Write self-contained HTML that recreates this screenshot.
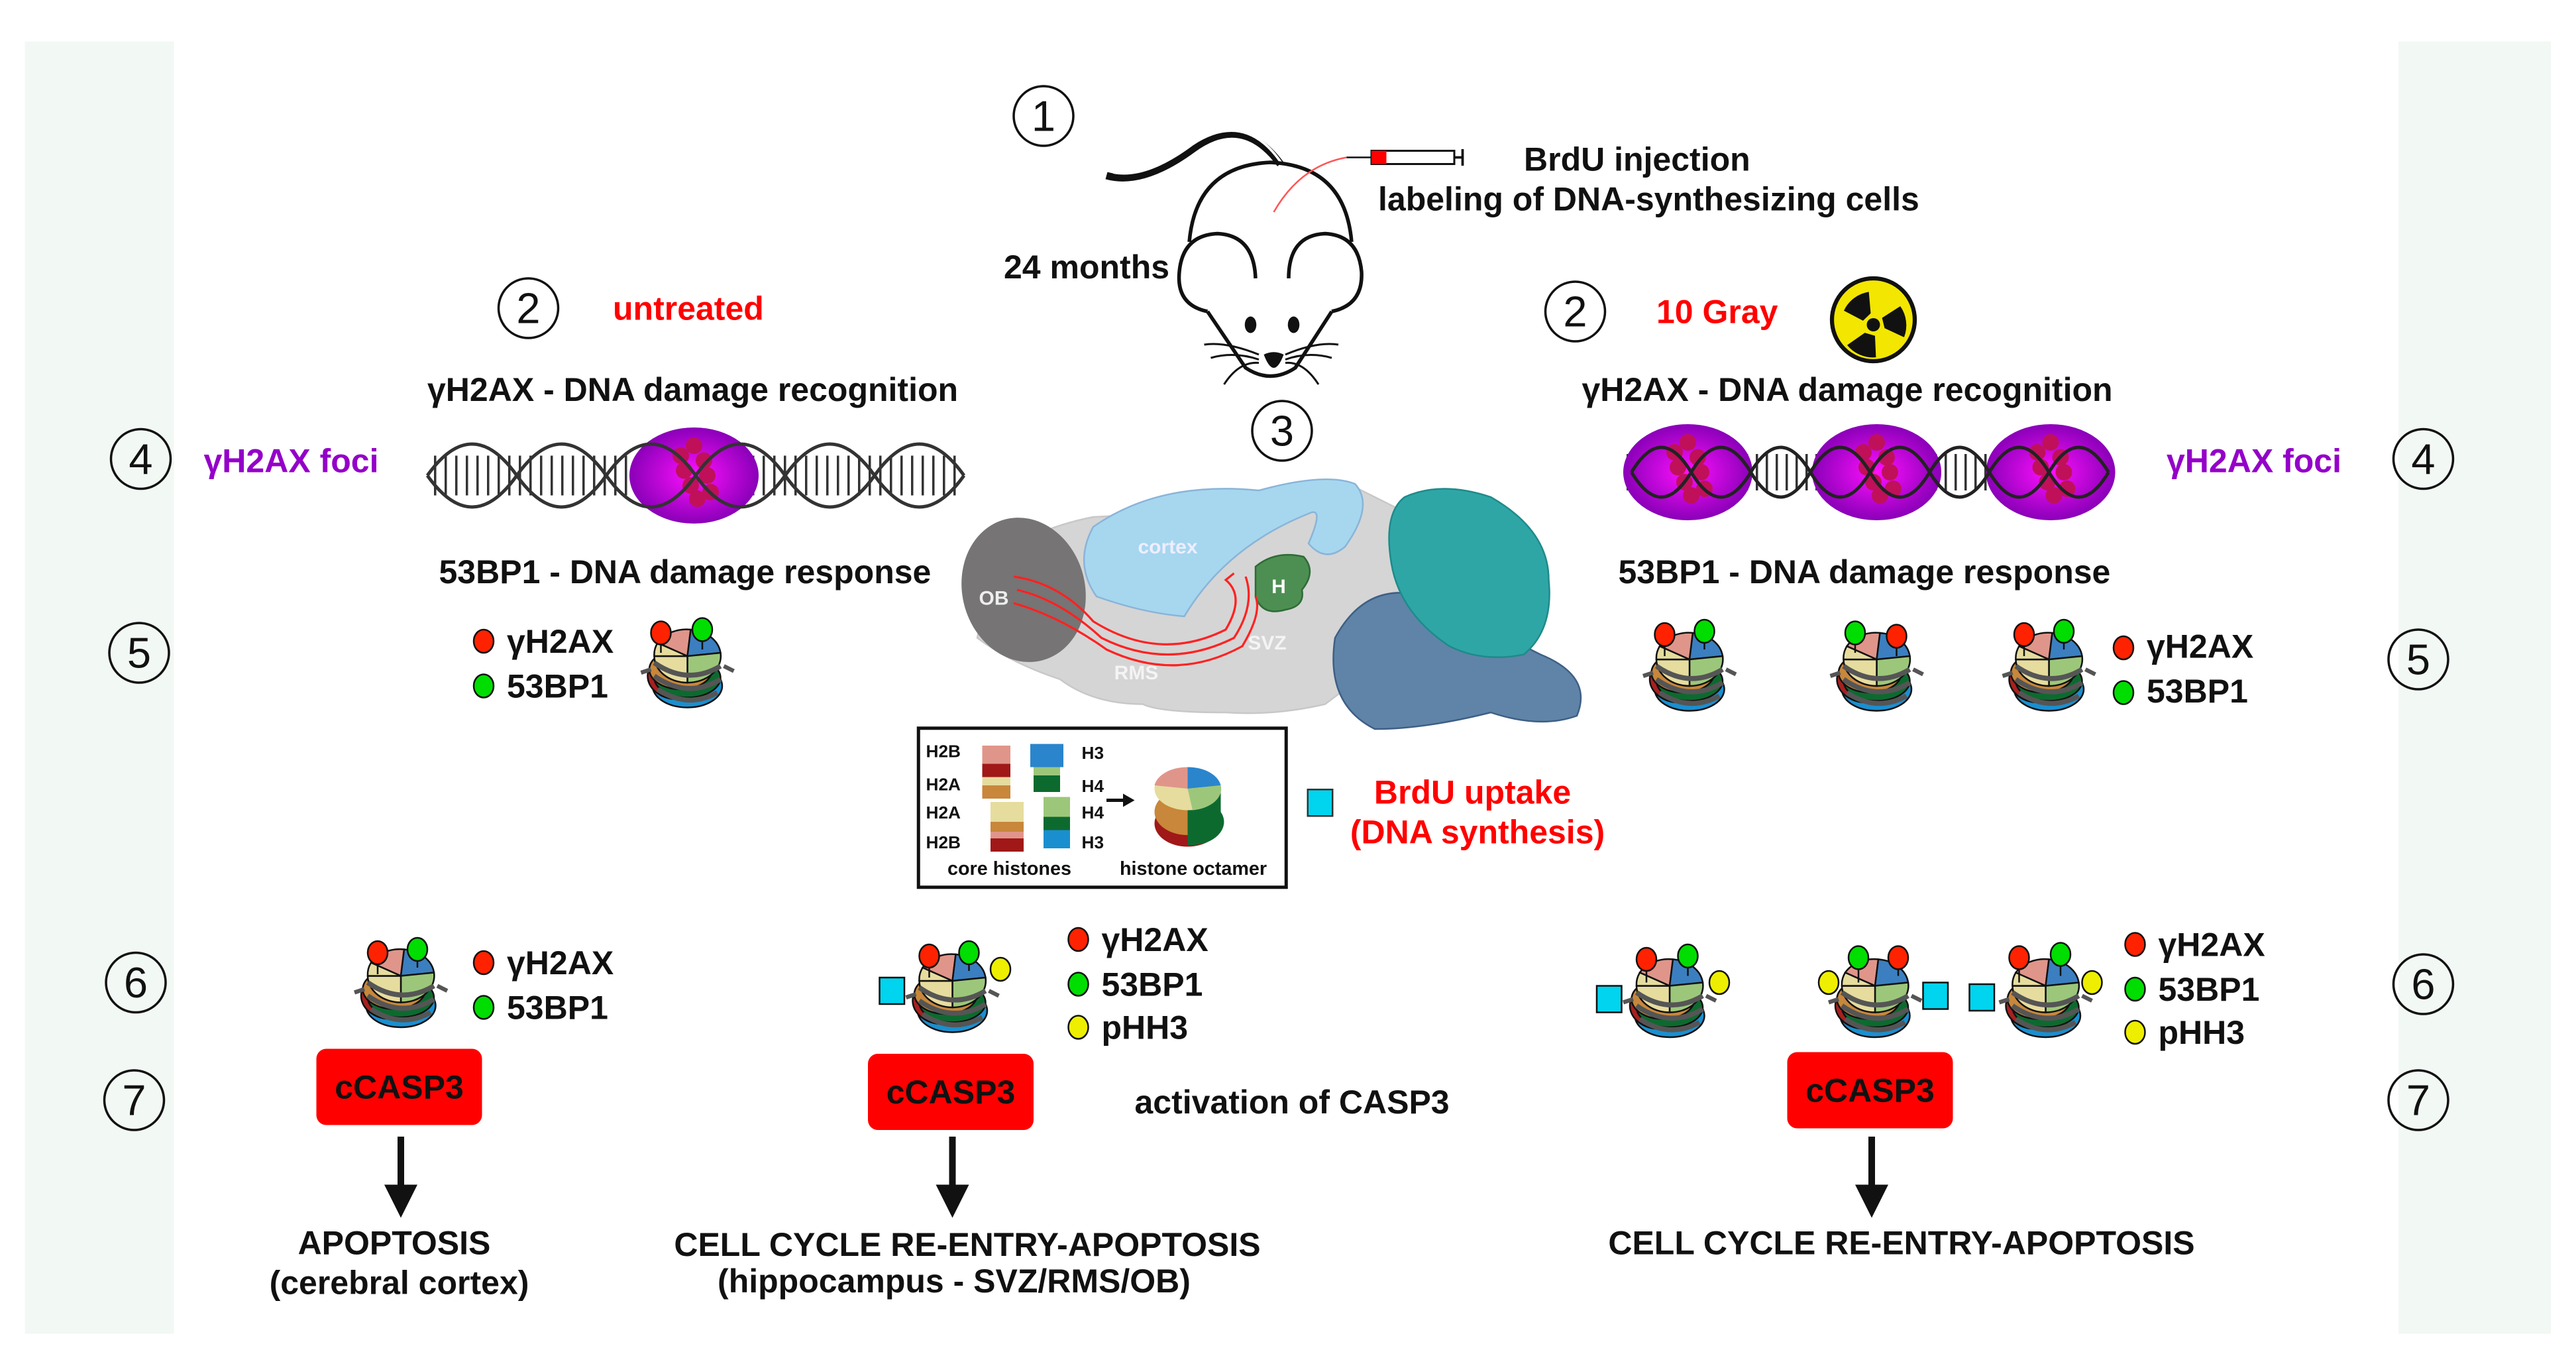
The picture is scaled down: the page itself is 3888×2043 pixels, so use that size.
<!DOCTYPE html>
<html><head><meta charset="utf-8"><style>
html,body{margin:0;padding:0;background:#fff}
svg{display:block}
text{font-family:"Liberation Sans",sans-serif}
.b{font-weight:bold;font-size:20px;fill:#111}
.n{font-size:26px;fill:#111}
</style></head><body>
<svg width="3888" height="2043" viewBox="0 0 1555.2 817.2" xmlns="http://www.w3.org/2000/svg">
<defs>
<g id="nuc">
 <ellipse cx="0" cy="14" rx="21" ry="13" fill="#1a8fd0"/>
 <ellipse cx="-6" cy="8" rx="18" ry="14" fill="#a82020"/>
 <ellipse cx="0" cy="9" rx="20" ry="12" fill="#0d6a2f"/>
 <ellipse cx="-4" cy="4" rx="19" ry="12" fill="#c8873a"/>
 <path d="M0,-4 L-18,-12 A20,16 0 0 1 2,-20 Z" fill="#e0958a"/>
 <path d="M0,-4 L2,-20 A20,16 0 0 1 20,-6 Z" fill="#3b7fc0"/>
 <path d="M0,-4 L20,-6 A20,16 0 0 1 0,12 Z" fill="#9cc77a"/>
 <path d="M0,-4 L0,12 A20,16 0 0 1 -20,-4 Z" fill="#e6dc9e"/>
 <path d="M0,-4 L-20,-4 A20,16 0 0 1 -18,-12 Z" fill="#e6dc9e"/>
 <path d="M-20,0 Q0,14 20,2 M-20,8 Q0,22 20,10 M-18,16 Q0,28 18,18" stroke="#555" stroke-width="3" fill="none"/>
 <path d="M-22,4 l-6,2 M22,2 l6,3" stroke="#555" stroke-width="2.5"/>
</g>
<radialGradient id="pg"><stop offset="0" stop-color="#ff10ff"/><stop offset="1" stop-color="#8a00b8"/></radialGradient>
<g id="foc">
 <ellipse cx="0" cy="0" rx="39" ry="29" fill="url(#pg)"/>
 <g fill="#c0105a"><circle cx="-8" cy="-12" r="5"/><circle cx="-6" cy="-3" r="5"/><circle cx="-2" cy="6" r="5"/><circle cx="2" cy="14" r="5"/><circle cx="0" cy="-18" r="5"/><circle cx="6" cy="-9" r="5"/><circle cx="8" cy="0" r="5"/><circle cx="10" cy="10" r="5"/></g>
</g>
</defs>
<rect x="0" y="0" width="1555.2" height="817.2" fill="#fff"/>
<rect x="15" y="25" width="1525" height="780" fill="#f2f8f4"/>
<rect x="105" y="25" width="1343" height="780" fill="#fff"/>

<g fill="none" stroke="#111" stroke-width="1.4">
<circle cx="630" cy="70" r="18"/><circle cx="319" cy="186" r="18"/><circle cx="951" cy="188" r="18"/><circle cx="774" cy="260" r="18"/>
<circle cx="85" cy="277" r="18"/><circle cx="1463" cy="277" r="18"/><circle cx="84" cy="394" r="18"/><circle cx="1460" cy="398" r="18"/>
<circle cx="82" cy="593" r="18"/><circle cx="1463" cy="594" r="18"/><circle cx="81" cy="664" r="18"/><circle cx="1460" cy="664" r="18"/>
</g>
<g class="n" text-anchor="middle">
<text x="630" y="79">1</text><text x="319" y="195">2</text><text x="951" y="197">2</text><text x="774" y="269">3</text>
<text x="85" y="286">4</text><text x="1463" y="286">4</text><text x="84" y="403">5</text><text x="1460" y="407">5</text>
<text x="82" y="602">6</text><text x="1463" y="603">6</text><text x="81" y="673">7</text><text x="1460" y="673">7</text>
</g>

<!-- mouse -->
<g fill="none" stroke="#111" stroke-width="2.2">
<path d="M668,106 Q690,112 720,90 Q750,68 773,99" stroke-width="4.5"/>
<path d="M672,104 Q692,108 720,87 Q752,66 774,99" stroke="#fff" stroke-width="1.5"/>
<path d="M718,146 Q722,100 767,98 Q812,100 816,146"/>
<path d="M729,188 Q710,184 712,164 Q714,142 735,141 Q757,142 758,168"/>
<path d="M804,188 Q823,184 822,164 Q820,142 800,141 Q778,142 778,168"/>
<path d="M729,188 L752,222 Q767,232 782,222 L804,188"/>
<path d="M727,208 Q740,206 760,214 M731,216 Q745,212 760,217 M739,232 Q748,218 760,219 M808,208 Q795,206 776,214 M804,216 Q790,212 776,217 M796,232 Q787,218 776,219" stroke-width="1.2"/>
</g>
<ellipse cx="755" cy="196" rx="3.5" ry="5" fill="#111"/><ellipse cx="781" cy="196" rx="3.5" ry="5" fill="#111"/>
<path d="M763,214 Q769,211 775,214 Q772,222 769,222 Q766,222 763,214Z" fill="#111"/>
<path d="M813,95 Q785,100 769,128" stroke="#f55" stroke-width="1" fill="none"/>
<line x1="813" y1="95" x2="828" y2="95" stroke="#111" stroke-width="1"/>
<rect x="828" y="91" width="50" height="8" fill="#fff" stroke="#111" stroke-width="1.2"/>
<rect x="828" y="91" width="9" height="8" fill="#f00"/>
<path d="M878,95 h5 M883,90 v10" stroke="#111" stroke-width="1.5"/>

<text class="b" x="920" y="103">BrdU injection</text>
<text class="b" x="832" y="127">labeling of DNA-synthesizing cells</text>
<text class="b" x="606" y="168">24 months</text>
<text class="b" x="370" y="193" style="fill:#f00">untreated</text>
<text class="b" x="1000" y="195" style="fill:#f00">10 Gray</text>
<circle cx="1131" cy="193" r="25" fill="#f3e600" stroke="#111" stroke-width="2.5"/>
<g fill="#111" transform="translate(1131,196)">
<circle r="4"/>
<path d="M-6,-3 L-17,-10 A20,20 0 0 1 -1,-20 L-1,-7Z" transform="rotate(-5)"/>
<path d="M-6,-3 L-17,-10 A20,20 0 0 1 -1,-20 L-1,-7Z" transform="rotate(115)"/>
<path d="M-6,-3 L-17,-10 A20,20 0 0 1 -1,-20 L-1,-7Z" transform="rotate(235)"/>
</g>

<text class="b" x="258" y="242">γH2AX - DNA damage recognition</text>
<text class="b" x="955" y="242">γH2AX - DNA damage recognition</text>
<text class="b" x="123" y="285" style="fill:#9400c8">γH2AX foci</text>
<text class="b" x="1308" y="285" style="fill:#9400c8">γH2AX foci</text>
<text class="b" x="265" y="352">53BP1 - DNA damage response</text>
<text class="b" x="977" y="352">53BP1 - DNA damage response</text>

<g>
<line x1="262" y1="287" x2="580" y2="287" stroke="#333" stroke-width="24" stroke-dasharray="1.4 5"/>
<use href="#foc" x="419" y="287"/>
<path d="M258,287 q27,-38 54,0 q27,38 54,0 q27,-38 54,0 q27,38 54,0 q27,-38 54,0 q27,38 54,0" fill="none" stroke="#333" stroke-width="2"/>
<path d="M258,287 q27,38 54,0 q27,-38 54,0 q27,38 54,0 q27,-38 54,0 q27,38 54,0 q27,-38 54,0" fill="none" stroke="#333" stroke-width="2"/>
</g>
<g>
<line x1="982" y1="285" x2="1276" y2="285" stroke="#333" stroke-width="22" stroke-dasharray="1.4 4.6"/>
<use href="#foc" x="1019" y="285"/><use href="#foc" x="1133" y="285"/><use href="#foc" x="1238" y="285"/>
<path d="M985,285 q18,-30 36,0 q18,30 36,0 q18,-30 36,0 q18,30 36,0 q18,-30 36,0 q18,30 36,0 q18,-30 36,0 q18,30 36,0" fill="none" stroke="#222" stroke-width="2"/>
<path d="M985,285 q18,30 36,0 q18,-30 36,0 q18,30 36,0 q18,-30 36,0 q18,30 36,0 q18,-30 36,0 q18,30 36,0 q18,-30 36,0" fill="none" stroke="#222" stroke-width="2"/>
</g>

<!-- brain -->
<path d="M600,340 Q620,320 660,312 L700,310 Q760,300 820,295 L850,310 L860,330 L880,330 L870,400 L820,410 L800,425 Q770,432 740,430 Q700,430 690,425 Q660,425 640,410 Q610,400 590,385 Z" fill="#d5d5d5" stroke="#c8c8c8"/>
<ellipse cx="618" cy="356" rx="37" ry="44" fill="#767474" transform="rotate(-15 618 356)"/>
<path d="M660,318 Q700,290 760,296 Q800,285 818,292 Q830,305 812,330 Q800,340 790,328 Q800,305 790,310 Q740,330 715,372 Q690,370 662,360 Q648,340 660,318Z" fill="#a6d7ef" stroke="#8ab4d8"/>
<path d="M758,342 Q770,332 787,336 Q795,345 786,356 Q788,366 776,368 Q762,372 758,360Z" fill="#4d8f52" stroke="#2e6b35"/>
<g fill="none" stroke="#f22" stroke-width="1.3">
<path d="M612,348 Q640,352 660,375 Q700,400 740,380 Q752,360 740,350 L745,346"/>
<path d="M614,356 Q640,362 665,385 Q705,405 745,385 Q758,365 752,348"/>
<path d="M612,364 Q640,372 668,392 Q710,412 750,390 Q762,370 758,360"/>
</g>
<text x="600" y="365" font-size="12" font-weight="bold" fill="#eee" text-anchor="middle">OB</text>
<text x="705" y="334" font-size="12" font-weight="bold" fill="#eef" text-anchor="middle">cortex</text>
<text x="772" y="358" font-size="12" font-weight="bold" fill="#fff" text-anchor="middle">H</text>
<text x="765" y="392" font-size="12" font-weight="bold" fill="#f4f4f4" text-anchor="middle">SVZ</text>
<text x="686" y="410" font-size="12" font-weight="bold" fill="#f4f4f4" text-anchor="middle">RMS</text>
<path d="M806,385 Q825,350 860,360 Q900,380 930,395 Q962,408 952,432 Q930,440 900,430 Q860,440 830,440 Q800,425 806,385Z" fill="#5f84a8" stroke="#3e5f85"/>
<path d="M848,300 Q870,290 900,300 Q935,320 935,350 Q938,380 920,395 Q895,400 875,390 Q845,370 840,340 Q835,310 848,300Z" fill="#2fa6a6" stroke="#1f8a8a"/>

<rect x="554.5" y="439.5" width="222" height="96" fill="#fff" stroke="#111" stroke-width="2"/>
<g font-size="10.5" font-weight="bold" fill="#111">
<text x="559" y="457">H2B</text><text x="559" y="477">H2A</text><text x="559" y="494">H2A</text><text x="559" y="512">H2B</text>
<text x="653" y="458">H3</text><text x="653" y="478">H4</text><text x="653" y="494">H4</text><text x="653" y="512">H3</text>
<text x="572" y="528" font-size="11.5">core histones</text><text x="676" y="528" font-size="11.5">histone octamer</text>
</g>
<rect x="593" y="450" width="17" height="12" fill="#e0958a"/><rect x="593" y="461" width="17" height="8" fill="#a01818"/><rect x="593" y="469" width="17" height="5" fill="#e6dc9e"/><rect x="593" y="474" width="17" height="8" fill="#c8873a"/>
<rect x="622" y="449" width="20" height="14" fill="#2a85cc"/><rect x="624" y="463" width="16" height="5" fill="#9cc77a"/><rect x="624" y="468" width="16" height="10" fill="#0d6a2f"/>
<rect x="598" y="484" width="20" height="12" fill="#e6dc9e"/><rect x="598" y="496" width="20" height="6" fill="#c8873a"/><rect x="598" y="502" width="20" height="4" fill="#e0958a"/><rect x="598" y="506" width="20" height="8" fill="#a01818"/>
<rect x="630" y="481" width="16" height="12" fill="#9cc77a"/><rect x="630" y="493" width="16" height="8" fill="#0d6a2f"/><rect x="630" y="501" width="16" height="11" fill="#1a8fd0"/>
<path d="M668,483 h12" stroke="#111" stroke-width="2"/><path d="M678,479 l7,4 l-7,4z" fill="#111"/>
<ellipse cx="717" cy="497" rx="20" ry="14" fill="#a01818"/><ellipse cx="717" cy="490" rx="20" ry="14" fill="#c8873a"/>
<path d="M717,480 L717,510 A20,14 0 0 0 737,490 L737,475 Z" fill="#0d6a2f"/>
<ellipse cx="717" cy="476" rx="20" ry="13" fill="#e6dc9e"/>
<path d="M717,476 L697,474 A20,13 0 0 1 717,463Z" fill="#e0958a"/><path d="M717,476 L717,463 A20,13 0 0 1 737,474Z" fill="#2a85cc"/><path d="M717,476 L737,474 A20,13 0 0 1 720,489Z" fill="#9cc77a"/>
<rect x="789.5" y="476.5" width="15" height="16" fill="#00d4ee" stroke="#333" stroke-width="1"/>
<text class="b" x="889" y="485" text-anchor="middle" style="fill:#f00">BrdU uptake</text>
<text class="b" x="892" y="509" text-anchor="middle" style="fill:#f00">(DNA synthesis)</text>

<g stroke="#111" stroke-width="1">
<use href="#nuc" x="415" y="400"/><line x1="399" y1="386" x2="399" y2="394"/><line x1="424" y1="386" x2="424" y2="392"/><ellipse cx="399" cy="382" rx="6" ry="7" fill="#f20"/><ellipse cx="424" cy="380" rx="6" ry="7" fill="#0d0"/>
<use href="#nuc" x="1020" y="402"/><line x1="1005" y1="388" x2="1005" y2="396"/><line x1="1029" y1="386" x2="1029" y2="392"/><ellipse cx="1005" cy="383" rx="6" ry="7" fill="#f20"/><ellipse cx="1029" cy="381" rx="6" ry="7" fill="#0d0"/>
<use href="#nuc" x="1133" y="402"/><line x1="1120" y1="386" x2="1120" y2="394"/><line x1="1145" y1="388" x2="1145" y2="396"/><ellipse cx="1120" cy="382" rx="6" ry="7" fill="#0d0"/><ellipse cx="1145" cy="384" rx="6" ry="7" fill="#f20"/>
<use href="#nuc" x="1237" y="402"/><line x1="1222" y1="388" x2="1222" y2="396"/><line x1="1246" y1="386" x2="1246" y2="392"/><ellipse cx="1222" cy="383" rx="6" ry="7" fill="#f20"/><ellipse cx="1246" cy="381" rx="6" ry="7" fill="#0d0"/>
</g>
<g stroke="#111" stroke-width="1">
<ellipse cx="292" cy="387" rx="6" ry="7" fill="#f20"/><ellipse cx="292" cy="414" rx="6" ry="7" fill="#0d0"/>
<ellipse cx="1282" cy="391" rx="6" ry="7" fill="#f20"/><ellipse cx="1282" cy="418" rx="6" ry="7" fill="#0d0"/>
</g>
<text class="b" x="306" y="394">γH2AX</text><text class="b" x="306" y="421">53BP1</text>
<text class="b" x="1296" y="397">γH2AX</text><text class="b" x="1296" y="424">53BP1</text>

<g stroke="#111" stroke-width="1">
<use href="#nuc" x="242" y="593"/><line x1="228" y1="580" x2="228" y2="588"/><line x1="252" y1="578" x2="252" y2="584"/><ellipse cx="228" cy="575" rx="6" ry="7" fill="#f20"/><ellipse cx="252" cy="573" rx="6" ry="7" fill="#0d0"/>
<use href="#nuc" x="575" y="596"/><line x1="561" y1="582" x2="561" y2="590"/><line x1="585" y1="580" x2="585" y2="586"/><ellipse cx="561" cy="577" rx="6" ry="7" fill="#f20"/><ellipse cx="585" cy="575" rx="6" ry="7" fill="#0d0"/><ellipse cx="604" cy="585" rx="6" ry="7" fill="#ee0"/><rect x="531" y="590" width="15" height="16" fill="#00d4ee"/>
<use href="#nuc" x="1008" y="599"/><line x1="994" y1="585" x2="994" y2="593"/><line x1="1019" y1="583" x2="1019" y2="589"/><ellipse cx="994" cy="579" rx="6" ry="7" fill="#f20"/><ellipse cx="1019" cy="577" rx="6" ry="7" fill="#0d0"/><ellipse cx="1038" cy="593" rx="6" ry="7" fill="#ee0"/><rect x="964" y="595" width="15" height="16" fill="#00d4ee"/>
<use href="#nuc" x="1132" y="599"/><line x1="1122" y1="585" x2="1122" y2="593"/><line x1="1146" y1="583" x2="1146" y2="589"/><ellipse cx="1122" cy="578" rx="6" ry="7" fill="#0d0"/><ellipse cx="1146" cy="578" rx="6" ry="7" fill="#f20"/><ellipse cx="1104" cy="593" rx="6" ry="7" fill="#ee0"/><rect x="1161" y="593" width="15" height="16" fill="#00d4ee"/>
<use href="#nuc" x="1235" y="599"/><line x1="1219" y1="585" x2="1219" y2="593"/><line x1="1244" y1="583" x2="1244" y2="589"/><ellipse cx="1219" cy="578" rx="6" ry="7" fill="#f20"/><ellipse cx="1244" cy="576" rx="6" ry="7" fill="#0d0"/><ellipse cx="1263" cy="593" rx="6" ry="7" fill="#ee0"/><rect x="1189" y="594" width="15" height="16" fill="#00d4ee"/>
<ellipse cx="292" cy="581" rx="6" ry="7" fill="#f20"/><ellipse cx="292" cy="608" rx="6" ry="7" fill="#0d0"/>
<ellipse cx="651" cy="567" rx="6" ry="7" fill="#f20"/><ellipse cx="651" cy="594" rx="6" ry="7" fill="#0d0"/><ellipse cx="651" cy="620" rx="6" ry="7" fill="#ee0"/>
<ellipse cx="1289" cy="570" rx="6" ry="7" fill="#f20"/><ellipse cx="1289" cy="597" rx="6" ry="7" fill="#0d0"/><ellipse cx="1289" cy="623" rx="6" ry="7" fill="#ee0"/>
</g>
<text class="b" x="306" y="588">γH2AX</text><text class="b" x="306" y="615">53BP1</text>
<text class="b" x="665" y="574">γH2AX</text><text class="b" x="665" y="601">53BP1</text><text class="b" x="665" y="627">pHH3</text>
<text class="b" x="1303" y="577">γH2AX</text><text class="b" x="1303" y="604">53BP1</text><text class="b" x="1303" y="630">pHH3</text>

<rect x="191" y="633" width="100" height="46" rx="6" fill="#f00"/>
<rect x="524" y="636" width="100" height="46" rx="6" fill="#f00"/>
<rect x="1079" y="635" width="100" height="46" rx="6" fill="#f00"/>
<text class="b" x="241" y="663" text-anchor="middle">cCASP3</text>
<text class="b" x="574" y="666" text-anchor="middle">cCASP3</text>
<text class="b" x="1129" y="665" text-anchor="middle">cCASP3</text>
<text class="b" x="685" y="672">activation of CASP3</text>

<g stroke="#111" stroke-width="4"><line x1="242" y1="686" x2="242" y2="718"/><line x1="575" y1="686" x2="575" y2="718"/><line x1="1130" y1="686" x2="1130" y2="718"/></g>
<g fill="#111"><path d="M232,715 h20 l-10,20z"/><path d="M565,715 h20 l-10,20z"/><path d="M1120,715 h20 l-10,20z"/></g>

<text class="b" x="238" y="757" text-anchor="middle">APOPTOSIS</text>
<text class="b" x="241" y="781" text-anchor="middle">(cerebral cortex)</text>
<text class="b" x="584" y="758" text-anchor="middle">CELL CYCLE RE-ENTRY-APOPTOSIS</text>
<text class="b" x="576" y="780" text-anchor="middle">(hippocampus - SVZ/RMS/OB)</text>
<text class="b" x="1148" y="757" text-anchor="middle">CELL CYCLE RE-ENTRY-APOPTOSIS</text>
</svg>
</body></html>
